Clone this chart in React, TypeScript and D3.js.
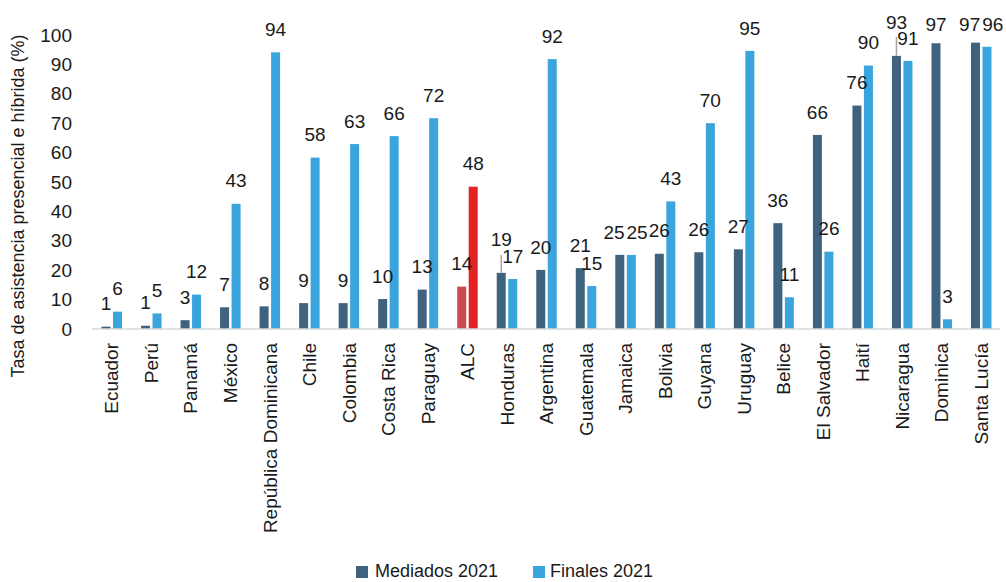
import React from "react";
import * as d3 from "d3";

const categories = [
  "Ecuador", "Perú", "Panamá", "México", "República Dominicana", "Chile", "Colombia",
  "Costa Rica", "Paraguay", "ALC", "Honduras", "Argentina", "Guatemala", "Jamaica",
  "Bolivia", "Guyana", "Uruguay", "Belice", "El Salvador", "Haití", "Nicaragua",
  "Dominica", "Santa Lucía",
];
const mediados2021 = [
  0.8, 1.1, 3.0, 7.4, 7.7, 8.8, 8.8, 10.2, 13.4, 14.4, 19.1, 20.1, 20.7, 25.2,
  25.6, 26.1, 27.1, 36.0, 66.0, 76.0, 92.9, 97.2, 97.4,
];
const finales2021 = [
  5.9, 5.3, 11.7, 42.6, 94.1, 58.3, 62.9, 65.6, 71.7, 48.4, 17.0, 91.8, 14.6, 25.2,
  43.4, 70.0, 94.6, 10.8, 26.3, 89.6, 91.2, 3.3, 96.0,
];
const seriesNames = ["Mediados 2021", "Finales 2021"];
const yTicks = [0, 10, 20, 30, 40, 50, 60, 70, 80, 90, 100];
const highlight = "ALC";
const yTitle = "Tasa de asistencia presencial e híbrida (%)";

const W = 1006;
const H = 582;
const FONT = "'Liberation Sans', Arial, sans-serif";
const DARK = "#3F637E";
const LIGHT = "#3AA4DC";
const DARK_HL = "#C94B50";
const LIGHT_HL = "#E42323";
const TEXT = "#1a1a1a";

export default function App() {
  const x = d3.scaleBand<string>().domain(categories).range([92, 1001]).padding(0);
  const inner = d3
    .scaleBand<string>()
    .domain(seriesNames)
    .range([0, x.bandwidth()])
    .paddingInner(0.217)
    .paddingOuter(0.827);
  const y = d3.scaleLinear().domain([0, 100]).range([329, 35]);

  const digitW = 19 * 0.556;

  type Lab = { x: number; y: number; text: string; top: number; bx: number; leader: boolean };
  const labels: Lab[] = [];
  categories.forEach((c, i) => {
    const vals = [mediados2021[i], finales2021[i]];
    const labs: Lab[] = vals.map((v, s) => {
      const bx = (x(c) as number) + (inner(seriesNames[s]) as number) + inner.bandwidth() / 2;
      const top = y(v);
      return { x: bx, y: Math.max(top - 23, 24), text: String(Math.round(v)), top, bx, leader: false };
    });
    const [a, b] = labs;
    const wa = a.text.length * digitW;
    const wb = b.text.length * digitW;
    const dy = Math.abs(a.y - b.y);
    if (dy < 13 && b.x - a.x < (wa + wb) / 2) {
      if (dy < 3) {
        const need = (wa + wb) / 2 + 2 - (b.x - a.x);
        a.x -= need / 2;
        b.x += need / 2;
      } else {
        const [up, other] = a.y < b.y ? [a, b] : [b, a];
        up.y = Math.min(up.y - 10, other.y - 16);
        up.leader = true;
      }
    }
    labels.push(a, b);
  });

  return (
    <svg
      width={W}
      height={H}
      style={{ position: "absolute", left: 0, top: 0, background: "#fff" }}
      fontFamily={FONT}
    >
      {/* y tick labels */}
      {yTicks.map((t) => (
        <text key={t} x={72} y={y(t)} dy="0.35em" textAnchor="end" fontSize={19} fill={TEXT}>
          {t}
        </text>
      ))}
      {/* y title */}
      <text
        transform={`translate(18,${206}) rotate(-90)`}
        textAnchor="middle"
        dy="0.35em"
        fontSize={18}
        fill={TEXT}
      >
        {yTitle}
      </text>
      {/* bars */}
      {categories.map((c, i) => {
        const hl = c === highlight;
        return (
          <g key={c}>
            {[mediados2021[i], finales2021[i]].map((v, s) => {
              const bx = (x(c) as number) + (inner(seriesNames[s]) as number);
              const fill = s === 0 ? (hl ? DARK_HL : DARK) : hl ? LIGHT_HL : LIGHT;
              return (
                <rect
                  key={s}
                  x={bx}
                  y={y(v)}
                  width={inner.bandwidth()}
                  height={y(0) - y(v)}
                  fill={fill}
                />
              );
            })}
          </g>
        );
      })}
      {/* x axis line */}
      <line x1={92} x2={1000} y1={329} y2={329} stroke="#D9D9D9" strokeWidth={1.5} />
      {/* category labels */}
      {categories.map((c) => (
        <text
          key={c}
          transform={`translate(${(x(c) as number) + x.bandwidth() / 2},343) rotate(-90)`}
          textAnchor="end"
          dy="0.35em"
          fontSize={19}
          fill={TEXT}
        >
          {c}
        </text>
      ))}
      {/* leader lines */}
      {labels
        .filter((l) => l.leader)
        .map((l, i) => (
          <line key={i} x1={l.bx} x2={l.bx} y1={l.top} y2={l.y + 15} stroke="#A6A6A6" strokeWidth={1.5} />
        ))}
      {/* data labels */}
      {labels.map((l, i) => (
        <text key={i} x={l.x} y={l.y} dy="0.35em" textAnchor="middle" fontSize={19} fill={TEXT}>
          {l.text}
        </text>
      ))}
      {/* legend */}
      <g>
        <rect x={356} y={566} width={12} height={12} fill={DARK} />
        <text x={375} y={577} fontSize={18} fill={TEXT}>
          {seriesNames[0]}
        </text>
        <rect x={533} y={566} width={12} height={12} fill={LIGHT} />
        <text x={550} y={577} fontSize={18} fill={TEXT}>
          {seriesNames[1]}
        </text>
      </g>
    </svg>
  );
}
